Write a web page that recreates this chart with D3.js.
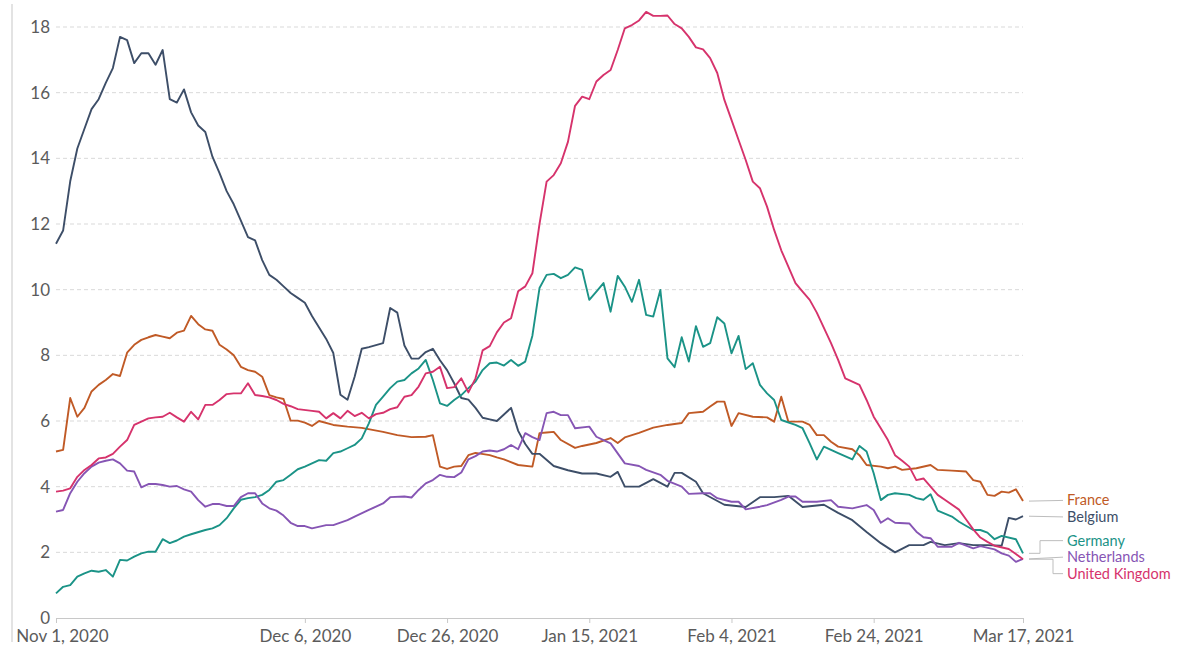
<!DOCTYPE html>
<html>
<head>
<meta charset="utf-8">
<script src="https://cdn.jsdelivr.net/npm/d3@7"></script>
<style>
  body { margin: 0; background: #fff; }
  svg, .axis { font-family: Lato, "Open Sans", sans-serif; }
  .grid line { stroke: #d9d9d9; stroke-dasharray: 4,3; }
  .axis text { fill: #5b5b5b; font-size: 17px; }
</style>
</head>
<body>
<div id="content"></div>
<script>
// Données : [jour depuis le 1er nov. 2020, valeur]

var france = [[0,5.07],[1,5.12],[2,6.7],[3,6.13],[4,6.4],[5,6.9],[6,7.1],[7,7.25],[8,7.43],[9,7.37],[10,8.08],[11,8.32],[12,8.47],[13,8.55],[14,8.62],[15,8.57],[16,8.52],[17,8.69],[18,8.75],[19,9.2],[20,8.95],[21,8.79],[22,8.75],[23,8.32],[24,8.18],[25,8.0],[26,7.65],[27,7.55],[28,7.5],[29,7.35],[30,6.79],[31,6.72],[32,6.67],[33,6.01],[34,6.01],[35,5.95],[36,5.85],[37,6.0],[39,5.88],[41,5.83],[43,5.79],[46,5.67],[48,5.57],[50,5.51],[52,5.52],[53,5.57],[54,4.61],[55,4.54],[56,4.61],[57,4.63],[58,4.96],[59,5.03],[61,4.96],[62,4.89],[63,4.83],[65,4.66],[67,4.61],[68,5.63],[69,5.65],[70,5.67],[71,5.42],[73,5.18],[74,5.24],[76,5.33],[78,5.48],[79,5.33],[80,5.5],[82,5.64],[84,5.8],[86,5.88],[88,5.94],[89,6.24],[91,6.28],[92,6.44],[93,6.59],[94,6.59],[95,5.85],[96,6.24],[98,6.13],[100,6.11],[101,5.98],[102,6.74],[103,5.98],[105,5.98],[106,5.88],[107,5.57],[108,5.57],[109,5.37],[110,5.22],[112,5.14],[113,4.96],[114,4.66],[116,4.61],[117,4.56],[118,4.61],[119,4.51],[121,4.56],[123,4.66],[124,4.51],[126,4.49],[128,4.46],[129,4.2],[130,4.15],[131,3.75],[132,3.72],[133,3.85],[134,3.82],[135,3.92],[136,3.56]];

var belgium = [[0,11.4],[1,11.8],[2,13.3],[3,14.3],[4,14.9],[5,15.5],[6,15.8],[7,16.3],[8,16.75],[9,17.7],[10,17.6],[11,16.9],[12,17.2],[13,17.2],[14,16.85],[15,17.3],[16,15.8],[17,15.7],[18,16.1],[19,15.4],[20,15.0],[21,14.8],[22,14.05],[23,13.55],[24,13.0],[25,12.6],[26,12.1],[27,11.6],[28,11.5],[29,10.9],[30,10.45],[31,10.3],[32,10.1],[33,9.9],[34,9.75],[35,9.6],[36,9.2],[37,8.85],[38,8.5],[39,8.07],[40,6.8],[41,6.65],[42,7.35],[43,8.2],[44,8.25],[46,8.37],[47,9.44],[48,9.3],[49,8.3],[50,7.9],[51,7.9],[52,8.1],[53,8.2],[54,7.85],[55,7.55],[56,7.15],[57,6.7],[58,6.65],[59,6.4],[60,6.1],[61,6.05],[62,6.0],[63,6.2],[64,6.4],[65,5.7],[66,5.3],[67,5.0],[68,5.0],[70,4.63],[72,4.5],[74,4.4],[76,4.4],[78,4.3],[79,4.45],[80,4.0],[82,4.0],[84,4.23],[86,4.0],[87,4.42],[88,4.42],[90,4.15],[91,3.8],[94,3.45],[97,3.38],[99,3.68],[101,3.68],[103,3.72],[105,3.38],[108,3.45],[110,3.2],[112,2.98],[114,2.62],[116,2.28],[118,2.0],[120,2.22],[122,2.22],[123,2.32],[125,2.22],[127,2.28],[129,2.22],[131,2.22],[133,2.2],[134,3.05],[135,3.0],[136,3.1]];

var germany = [[0,0.75],[1,0.95],[2,1.0],[3,1.26],[4,1.36],[5,1.44],[6,1.41],[7,1.46],[8,1.26],[9,1.77],[10,1.75],[11,1.87],[12,1.97],[13,2.02],[14,2.02],[15,2.4],[16,2.28],[17,2.36],[18,2.48],[19,2.55],[21,2.68],[22,2.73],[23,2.83],[24,3.04],[25,3.34],[26,3.6],[27,3.65],[28,3.68],[29,3.75],[30,3.9],[31,4.15],[32,4.2],[33,4.36],[34,4.53],[35,4.61],[36,4.71],[37,4.81],[38,4.79],[39,5.02],[40,5.07],[41,5.17],[42,5.27],[43,5.47],[44,5.93],[45,6.49],[46,6.74],[47,7.0],[48,7.2],[49,7.25],[50,7.45],[51,7.6],[52,7.86],[53,7.25],[54,6.54],[55,6.46],[56,6.64],[57,6.79],[58,7.0],[59,7.2],[60,7.55],[61,7.76],[62,7.78],[63,7.69],[64,7.86],[65,7.68],[66,7.81],[67,8.6],[68,10.05],[69,10.45],[70,10.48],[71,10.35],[72,10.45],[73,10.68],[74,10.6],[75,9.69],[76,9.94],[77,10.2],[78,9.33],[79,10.42],[80,10.09],[81,9.63],[82,10.3],[83,9.23],[84,9.18],[85,9.99],[86,7.91],[87,7.64],[88,8.55],[89,7.81],[90,8.89],[91,8.26],[92,8.37],[93,9.16],[94,8.97],[95,8.06],[96,8.59],[97,7.58],[98,7.76],[99,7.1],[100,6.84],[101,6.64],[102,6.03],[104,5.88],[105,5.78],[106,5.32],[107,4.83],[108,5.22],[109,5.12],[110,5.02],[112,4.83],[113,5.24],[114,5.07],[115,4.41],[116,3.59],[117,3.75],[118,3.8],[120,3.75],[121,3.65],[122,3.6],[123,3.77],[124,3.27],[126,3.09],[127,2.93],[129,2.68],[130,2.68],[131,2.6],[132,2.4],[133,2.5],[135,2.4],[136,1.97]];

var netherlands = [[0,3.24],[1,3.29],[2,3.8],[3,4.15],[4,4.41],[5,4.61],[6,4.73],[7,4.79],[8,4.83],[9,4.71],[10,4.49],[11,4.46],[12,3.98],[13,4.08],[14,4.08],[15,4.05],[16,4.0],[17,4.02],[18,3.92],[19,3.85],[20,3.59],[21,3.39],[22,3.47],[23,3.47],[24,3.41],[25,3.41],[26,3.68],[27,3.8],[28,3.8],[29,3.49],[30,3.34],[31,3.27],[32,3.12],[33,2.9],[34,2.8],[35,2.8],[36,2.73],[38,2.83],[39,2.83],[41,2.98],[42,3.09],[44,3.29],[46,3.49],[47,3.68],[49,3.7],[50,3.67],[51,3.9],[52,4.1],[53,4.2],[54,4.36],[55,4.3],[56,4.29],[57,4.43],[58,4.83],[59,4.93],[60,5.07],[61,5.1],[62,5.07],[63,5.14],[64,5.27],[65,5.14],[66,5.63],[67,5.51],[68,5.42],[69,6.24],[70,6.28],[71,6.18],[72,6.18],[73,5.78],[75,5.83],[76,5.52],[77,5.42],[78,5.32],[80,4.71],[82,4.63],[83,4.51],[85,4.36],[86,4.18],[88,4.0],[89,3.78],[91,3.8],[92,3.8],[93,3.65],[95,3.54],[96,3.54],[97,3.31],[99,3.39],[100,3.44],[102,3.6],[103,3.7],[104,3.7],[105,3.54],[107,3.54],[109,3.59],[110,3.39],[112,3.34],[114,3.44],[115,3.29],[116,2.9],[117,3.04],[118,2.9],[120,2.88],[121,2.63],[122,2.46],[123,2.43],[124,2.17],[126,2.17],[127,2.29],[129,2.12],[130,2.19],[132,2.09],[133,1.97],[134,1.9],[135,1.71],[136,1.8]];

var uk = [[0,3.85],[1,3.88],[2,3.95],[3,4.3],[4,4.51],[5,4.66],[6,4.86],[7,4.89],[8,5.0],[9,5.22],[10,5.42],[11,5.88],[12,5.98],[13,6.08],[14,6.11],[15,6.13],[16,6.25],[17,6.11],[18,5.98],[19,6.28],[20,6.05],[21,6.49],[22,6.49],[23,6.64],[24,6.82],[25,6.84],[26,6.84],[27,7.15],[28,6.79],[29,6.76],[30,6.72],[31,6.64],[32,6.52],[33,6.45],[34,6.36],[36,6.31],[37,6.28],[38,6.08],[39,6.24],[40,6.08],[41,6.31],[42,6.15],[43,6.25],[44,6.08],[45,6.21],[46,6.25],[47,6.36],[48,6.42],[49,6.74],[50,6.79],[51,7.05],[52,7.45],[53,7.5],[54,7.65],[55,7.0],[56,7.03],[57,7.3],[58,6.87],[59,7.3],[60,8.15],[61,8.28],[62,8.7],[63,9.0],[64,9.13],[65,9.95],[66,10.1],[67,10.5],[68,12.0],[69,13.29],[70,13.49],[71,13.85],[72,14.5],[73,15.6],[74,15.88],[75,15.8],[76,16.34],[77,16.54],[78,16.69],[79,17.3],[80,17.96],[81,18.06],[82,18.2],[83,18.46],[84,18.34],[85,18.34],[86,18.35],[87,18.09],[88,17.96],[89,17.7],[90,17.38],[91,17.32],[92,17.05],[93,16.6],[94,15.78],[95,15.17],[96,14.56],[97,13.95],[98,13.29],[99,13.09],[100,12.53],[101,11.82],[102,11.2],[104,10.2],[105,9.94],[106,9.69],[107,9.3],[109,8.37],[110,7.86],[111,7.3],[113,7.1],[114,6.64],[115,6.13],[116,5.78],[117,5.42],[118,4.96],[119,4.79],[120,4.61],[121,4.2],[122,4.25],[123,4.0],[124,3.75],[125,3.6],[127,3.3],[128,3.0],[129,2.7],[130,2.45],[131,2.32],[132,2.2],[134,2.1],[135,1.95],[136,1.79]];

var names  = ["France", "Belgium", "Germany", "Netherlands", "United Kingdom"];
var series = [france, belgium, germany, netherlands, uk];
var colors = ["#c05a26", "#3d4e68", "#1b9387", "#8655b4", "#d6336c"];

var yTicks    = [0, 2, 4, 6, 8, 10, 12, 14, 16, 18];
var tickDates = ["2020-11-01", "2020-12-06", "2020-12-26", "2021-01-15", "2021-02-04", "2021-02-24", "2021-03-17"];

// Paramètres graphiques

var width   = 1178,
    height  = 649,
    xLeft   = 56,
    xRight  = 1023,
    yTop    = 27,
    yBottom = 618;

var start = Date.UTC(2020, 10, 1);
function toDate(day) { return new Date(start + day * 864e5); }

var svg = d3.select("#content").append("svg")
    .attr("width", width)
    .attr("height", height);

// Échelles

var x = d3.scaleUtc()
    .domain([toDate(0), new Date("2021-03-17T00:00:00Z")])
    .range([xLeft, xRight]);

var y = d3.scaleLinear()
    .domain([0, 18])
    .range([yBottom, yTop]);

// cadre à gauche
svg.append("line")
    .attr("x1", 12).attr("x2", 12)
    .attr("y1", 4).attr("y2", 642)
    .attr("stroke", "#e3e3e3")
    .attr("stroke-width", 2);

// grille
svg.append("g")
    .attr("class", "grid")
  .selectAll("line")
    .data(yTicks.filter(d => d > 0))
  .join("line")
    .attr("x1", xLeft)
    .attr("x2", xRight)
    .attr("y1", d => y(d))
    .attr("y2", d => y(d));

// axes
var yAxis = svg.append("g")
    .attr("class", "axis")
    .attr("transform", "translate(" + (xLeft - 6) + ",0)")
    .call(d3.axisLeft(y).tickValues(yTicks).tickSize(0).tickPadding(0));
yAxis.select(".domain").remove();

var xAxis = svg.append("g")
    .attr("class", "axis")
    .attr("transform", "translate(0," + yBottom + ")")
    .call(d3.axisBottom(x)
      .tickValues(tickDates.map(d => new Date(d + "T00:00:00Z")))
      .tickFormat(d3.utcFormat("%b %-d, %Y"))
      .tickSize(5)
      .tickPadding(7)
      .tickSizeOuter(0));
xAxis.select(".domain").attr("stroke", "#c8c8c8");
xAxis.selectAll(".tick line").attr("stroke", "#c8c8c8");
// la première étiquette est poussée vers la droite
xAxis.select(".tick text").attr("dx", 6);

// courbes
var line = d3.line()
    .x(d => x(toDate(d[0])))
    .y(d => y(d[1]));

svg.append("g")
  .selectAll("path")
    .data(series)
  .join("path")
    .attr("fill", "none")
    .attr("stroke", (d, i) => colors[i])
    .attr("stroke-width", 1.9)
    .attr("stroke-linejoin", "round")
    .attr("d", line);

// étiquettes à droite, écartées pour ne pas se chevaucher
var gap = 16.5;
var labels = series.map((s, i) => {
  var last = s[s.length - 1];
  return { name: names[i], color: colors[i], target: y(last[1]), x0: x(toDate(last[0])) };
}).sort((a, b) => a.target - b.target);

var clusters = labels.map(l => ({ items: [l], mean: l.target }));
var moved = true;
while (moved) {
  moved = false;
  for (var i = 1; i < clusters.length; i++) {
    var a = clusters[i - 1], b = clusters[i];
    var aEnd = a.mean + (a.items.length - 1) * gap / 2;
    var bStart = b.mean - (b.items.length - 1) * gap / 2;
    if (bStart - aEnd < gap) {
      var items = a.items.concat(b.items);
      clusters.splice(i - 1, 2, { items: items, mean: d3.mean(items, d => d.target) });
      moved = true;
      break;
    }
  }
}
clusters.forEach(c => c.items.forEach((l, k) => {
  l.y = c.mean + (k - (c.items.length - 1) / 2) * gap;
}));

var lx = 1067;
var lab = svg.append("g");

lab.selectAll("path")
    .data(labels)
  .join("path")
    .attr("fill", "none")
    .attr("stroke", "#bdbdbd")
    .attr("stroke-width", 1)
    .attr("d", d => {
      var xs = d.x0 + 6, xe = lx - 4;
      if (Math.abs(d.y - d.target) < 4) return "M" + xs + "," + d.target + "L" + xe + "," + d.y;
      var xm = d.y < d.target ? 1040 : 1053;
      return "M" + xs + "," + d.target + "H" + xm + "V" + d.y + "H" + xe;
    });

lab.selectAll("text")
    .data(labels)
  .join("text")
    .attr("x", lx)
    .attr("y", d => d.y)
    .attr("dy", "0.35em")
    .attr("fill", d => d.color)
    .attr("font-size", "14.5px")
    .text(d => d.name);
</script>
</body>
</html>
